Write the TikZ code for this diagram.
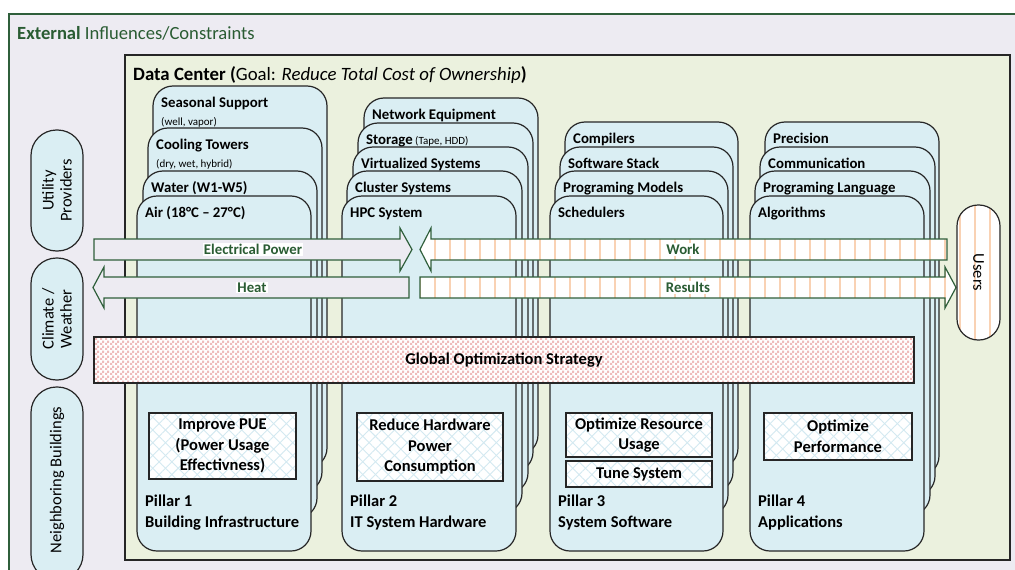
\documentclass[tikz,border=0pt]{standalone}
\usepackage{fontspec}
\setmainfont{Carlito}
\usetikzlibrary{patterns,patterns.meta}

\definecolor{outerbg}{HTML}{EDEBF2}
\definecolor{framegreen}{HTML}{2F5F3B}
\definecolor{labelgreen}{HTML}{2A5C33}
\definecolor{dcgreen}{HTML}{EBF1DE}
\definecolor{pillarblue}{HTML}{DAEEF3}
\definecolor{stripeorange}{HTML}{F9D2B4}
\definecolor{checkpink}{HTML}{EFBCBC}
\definecolor{hatchblue}{HTML}{D3E9F1}
\definecolor{edgegray}{HTML}{262626}

% fine checkerboard used for the strategy band
\pgfdeclarepatternformonly{finecheck}{\pgfpointorigin}{\pgfqpoint{5pt}{5pt}}{\pgfqpoint{5pt}{5pt}}{%
  \pgfpathrectangle{\pgfpointorigin}{\pgfqpoint{2.5pt}{2.5pt}}%
  \pgfpathrectangle{\pgfqpoint{2.5pt}{2.5pt}}{\pgfqpoint{2.5pt}{2.5pt}}%
  \pgfusepath{fill}}

\newcommand\fsz[2]{\fontsize{#1}{#2}\selectfont}

\tikzset{
  layer/.style={draw=edgegray, fill=pillarblue, line width=1.2pt, rounded corners=20pt},
  item/.style={anchor=base west, inner sep=0pt, font=\fsz{14.8}{17}\bfseries},
  note/.style={anchor=base west, inner sep=0pt, font=\fsz{11}{12}},
  goalbox/.style={draw=edgegray, line width=1.2pt,
     preaction={fill=white},
     preaction={pattern={Lines[angle=45,distance=9pt,line width=0.9pt]}, pattern color=hatchblue},
     preaction={pattern={Lines[angle=-45,distance=9pt,line width=0.9pt]}, pattern color=hatchblue}},
  goaltext/.style={align=center, inner sep=0pt, font=\fsz{16.5}{20.5}\bfseries},
  pillartext/.style={anchor=base west, inner sep=0pt, font=\fsz{16.5}{20}\bfseries},
  pill/.style={draw=edgegray, fill=pillarblue, line width=1.2pt, rounded corners=25.5pt},
  pilltext/.style={align=center, inner sep=0pt, font=\fsz{16.5}{18}},
  flow/.style={draw=framegreen, line width=1.2pt},
  plainflow/.style={flow, fill=outerbg},
  stripeflow/.style={flow, preaction={fill=white},
     preaction={pattern={Lines[angle=90,distance=15pt,line width=1.5pt]}, pattern color=stripeorange}},
  flowtext/.style={fill=white, inner sep=1pt, text=labelgreen, font=\fsz{14.8}{17}\bfseries},
}

\begin{document}
\begin{tikzpicture}[x=1pt, y=-1pt]
\useasboundingbox (0,0) rectangle (1015,570);
\clip (0,0) rectangle (1015,570);
\fill[white] (0,0) rectangle (1015,570);

% external frame
\draw[draw=framegreen, fill=outerbg, line width=1.2pt] (9,14) rectangle (1040,600);
\node[anchor=base west, inner sep=0pt, text=labelgreen, font=\fsz{18.6}{20}] (ext) at (17,39)
  {\textbf{External} Influences/Constraints};

% data center
\draw[draw=edgegray, fill=dcgreen, line width=1.4pt] (125,55) rectangle (1010,560);
\node[anchor=base west, inner sep=0pt, font=\fsz{18.8}{20}] (dc) at (133,80)
  {\textbf{Data Center (}Goal: \textit{Reduce Total Cost of Ownership}\textbf{)}};

% outside influences
\draw[pill] (31,130) rectangle (83,251);
\node[pilltext, rotate=90] (util) at (57,190.5) {Utility\\Providers};
\draw[pill] (31,258) rectangle (83,380);
\node[pilltext, rotate=90] (clim) at (57,319) {Climate /\\Weather};
\draw[pill] (31,387) rectangle (83,580);
\node[pilltext, rotate=90] (neigh) at (57,480) {Neighboring Buildings};

% pillar 1
\draw[layer] (153,86) rectangle (327,468);
\node[item] (p1a) at (161,107) {Seasonal Support};
\node[note] (p1an) at (161,125) {(well, vapor)};
\draw[layer] (148,128) rectangle (322,492);
\node[item] (p1b) at (156,149) {Cooling Towers};
\node[note] (p1bn) at (156,167) {(dry, wet, hybrid)};
\draw[layer] (143,171) rectangle (317,518);
\node[item] (p1c) at (151,192) {Water (W1-W5)};
\draw[layer] (137,196) rectangle (311,551);
\node[item] (p1d) at (145,217) {Air (18°C – 27°C)};

% pillar 2
\draw[layer] (364,98) rectangle (538,455);
\node[item] (p2a) at (372,119) {Network Equipment};
\draw[layer] (358,123) rectangle (533,472);
\node[item] (p2b) at (366,144) {Storage\fsz{11}{12}\mdseries\ (Tape, HDD)};
\draw[layer] (353,147) rectangle (528,493);
\node[item] (p2c) at (361,168) {Virtualized Systems};
\draw[layer] (347,171) rectangle (522,513);
\node[item] (p2d) at (355,192) {Cluster Systems};
\draw[layer] (342,196) rectangle (516,551);
\node[item] (p2e) at (350,217) {HPC System};

% pillar 3
\draw[layer] (565,122) rectangle (738,468);
\node[item] (p3a) at (573,143) {Compilers};
\draw[layer] (560,147) rectangle (733,492);
\node[item] (p3b) at (568,168) {Software Stack};
\draw[layer] (555,171) rectangle (728,515);
\node[item] (p3c) at (563,192) {Programing Models};
\draw[layer] (550,196) rectangle (723,551);
\node[item] (p3d) at (558,217) {Schedulers};

% pillar 4
\draw[layer] (765,122) rectangle (939,476);
\node[item] (p4a) at (773,143) {Precision};
\draw[layer] (760,147) rectangle (935,496);
\node[item] (p4b) at (768,168) {Communication};
\draw[layer] (755,171) rectangle (930,515);
\node[item] (p4c) at (763,192) {Programing Language};
\draw[layer] (750,196) rectangle (924,551);
\node[item] (p4d) at (758,217) {Algorithms};

% goals of the pillars
\draw[goalbox] (149,413) rectangle (296,479);
\node[goaltext] (g1) at (222.5,446) {Improve PUE\\(Power Usage\\Effectivness)};
\draw[goalbox] (357,413) rectangle (503,481);
\node[goaltext] (g2) at (430,447) {Reduce Hardware\\Power\\Consumption};
\draw[goalbox] (566,413) rectangle (712,457);
\node[goaltext] (g3) at (639,435) {Optimize Resource\\Usage};
\draw[goalbox] (566,461) rectangle (712,487);
\node[goaltext] (g3b) at (639,474) {Tune System};
\draw[goalbox] (764,413) rectangle (912,460);
\node[goaltext] (g4) at (838,436.5) {Optimize\\Performance};

% pillar names
\node[pillartext] (n1) at (145,506) {Pillar 1};
\node[pillartext] (n1b) at (145,527) {Building Infrastructure};
\node[pillartext] (n2) at (350,506) {Pillar 2};
\node[pillartext] (n2b) at (350,527) {IT System Hardware};
\node[pillartext] (n3) at (558,506) {Pillar 3};
\node[pillartext] (n3b) at (558,527) {System Software};
\node[pillartext] (n4) at (758,506) {Pillar 4};
\node[pillartext] (n4b) at (758,527) {Applications};

% flows
\draw[plainflow] (94,239) -- (400,239) -- (400,228) -- (412,249.5) -- (400,271) -- (400,260) -- (94,260) -- cycle;
\node[flowtext] (power) at (253,249.5) {Electrical Power};
\draw[plainflow] (409,277) -- (104,277) -- (104,267) -- (93,287.5) -- (104,308) -- (104,298) -- (409,298) -- cycle;
\node[flowtext] (heat) at (252,287.5) {Heat};
\draw[stripeflow] (947,239) -- (431,239) -- (431,228) -- (420,249.5) -- (431,271) -- (431,260) -- (947,260) -- cycle;
\node[flowtext] (work) at (683,249.5) {Work};
\draw[stripeflow] (420,277) -- (945,277) -- (945,267) -- (956,287.5) -- (945,308) -- (945,298) -- (420,298) -- cycle;
\node[flowtext] (results) at (688,287.5) {Results};

% global strategy band
\draw[draw=edgegray, line width=1.2pt, preaction={fill=white},
      preaction={pattern=finecheck, pattern color=checkpink}] (94,337) rectangle (914,383);
\node[inner sep=0pt, font=\fsz{16.5}{20}\bfseries] (global) at (504,360) {Global Optimization Strategy};

% users
\draw[draw=edgegray, line width=1.2pt, rounded corners=21pt, preaction={fill=white},
      preaction={pattern={Lines[angle=90,distance=15pt,line width=1.5pt]}, pattern color=stripeorange}]
      (957,205) rectangle (1000,340);
\node[pilltext, rotate=-90] (users) at (978.5,272.5) {Users};
\end{tikzpicture}
\end{document}
